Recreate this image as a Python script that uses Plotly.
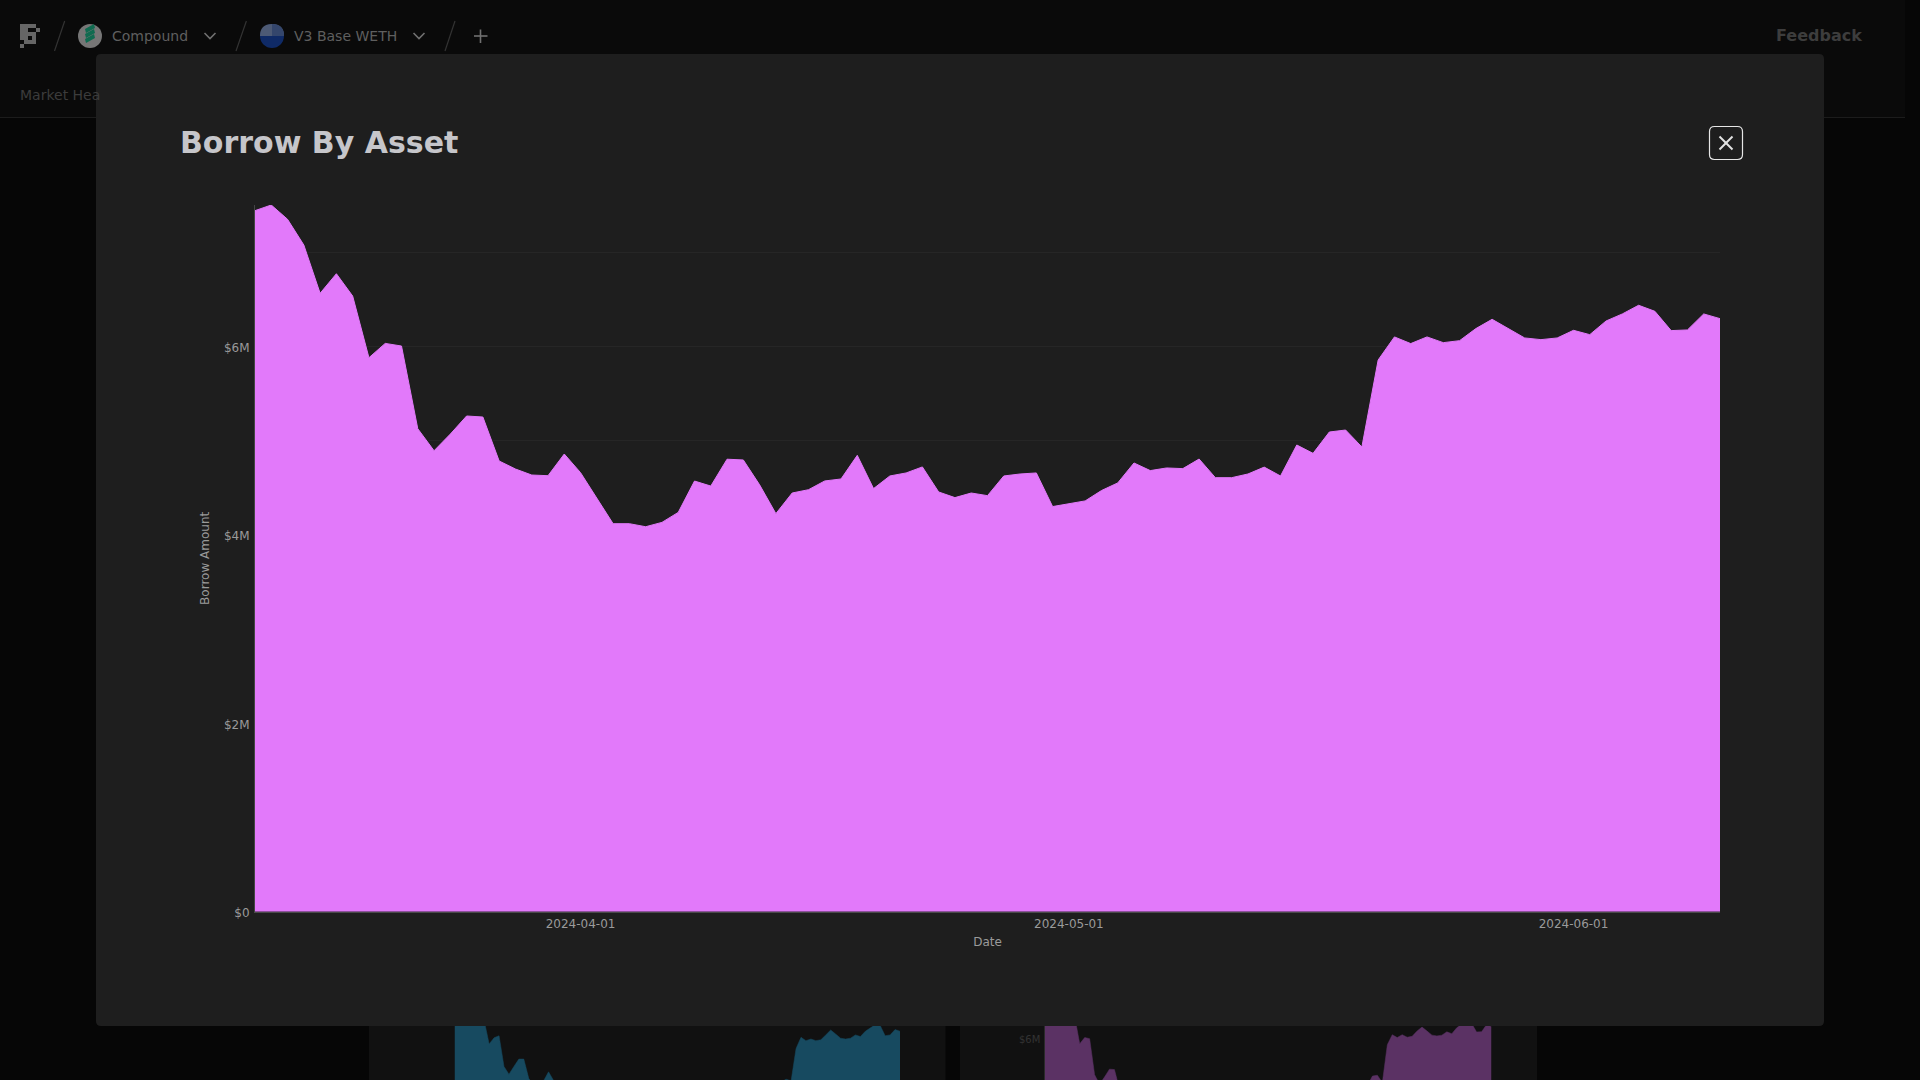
import plotly.graph_objects as go
import pandas as pd

W, H = 1920, 1080

start_date = "2024-03-12"
end_date = "2024-06-10"
dates = [d.strftime("%Y-%m-%d") for d in pd.date_range(start_date, end_date, freq="D")]

# Borrow amount in $M
borrow_m = [
    7.446, 7.506, 7.354, 7.081, 6.568, 6.776, 6.539, 5.884, 6.036, 6.008,
    5.130, 4.896, 5.073, 5.265, 5.254, 4.787, 4.702, 4.638, 4.631, 4.861,
    4.663, 4.390, 4.121, 4.121, 4.089, 4.135, 4.241, 4.574, 4.521, 4.806,
    4.798, 4.534, 4.228, 4.447, 4.482, 4.575, 4.596, 4.847, 4.494, 4.628,
    4.660, 4.724, 4.458, 4.398, 4.447, 4.419, 4.628, 4.649, 4.660, 4.303,
    4.334, 4.363, 4.473, 4.554, 4.766, 4.685, 4.713, 4.706, 4.808, 4.610,
    4.610, 4.649, 4.722, 4.628, 4.957, 4.868, 5.095, 5.116, 4.936, 5.860,
    6.105, 6.034, 6.105, 6.044, 6.065, 6.193, 6.292, 6.193, 6.094, 6.076,
    6.094, 6.175, 6.129, 6.274, 6.349, 6.441, 6.377, 6.172, 6.179, 6.349,
    6.299,
]
# Chart behind the dialog, only its upper part can be seen
teal_m = [
    7.50, 7.55, 7.40, 7.20, 6.75, 6.90, 6.45, 5.88, 6.03, 6.08,
    5.33, 5.14, 5.33, 5.51, 5.51, 5.04, 4.85, 4.75, 4.98, 5.20,
    4.99, 4.75, 4.45, 4.40, 4.38, 4.40, 4.50, 4.75, 4.70, 4.96,
    4.90, 4.70, 4.40, 4.60, 4.65, 4.72, 4.75, 4.90, 4.65, 4.75,
    4.80, 4.85, 4.60, 4.55, 4.60, 4.55, 4.75, 4.78, 4.80, 4.45,
    4.48, 4.50, 4.60, 4.68, 4.85, 4.78, 4.80, 4.80, 4.88, 4.70,
    4.70, 4.75, 4.80, 4.72, 4.90, 4.85, 4.95, 5.02, 4.98, 5.77,
    6.04, 5.96, 6.00, 5.96, 5.98, 6.10, 6.22, 6.12, 6.02, 6.00,
    6.02, 6.10, 6.06, 6.19, 6.26, 6.35, 6.33, 6.08, 6.10, 6.23,
    6.19,
]

tick_dates = ["2024-04-01", "2024-05-01", "2024-06-01"]
y_ticks_m = [0, 2, 4, 6]
y_tick_labels = ["$0", "$2M", "$4M", "$6M"]

title_text = "Borrow By Asset"
x_title = "Date"
y_title = "Borrow Amount"

FONT = "DejaVu Sans"
AREA = "#e279fa"
TEAL = "#174a60"
PURPLE = "#5b3264"


def px(x):
    return x / W


def py(y):
    return 1 - y / H


def rect(x0, y0, x1, y1, color):
    return dict(type="rect", xref="paper", yref="paper", x0=px(x0), x1=px(x1),
                y0=py(y1), y1=py(y0), fillcolor=color, line_width=0, layer="below")


def line(x0, y0, x1, y1, color, width=1.0):
    return dict(type="line", xref="paper", yref="paper", x0=px(x0), x1=px(x1),
                y0=py(y0), y1=py(y1), line=dict(color=color, width=width), layer="below")


def path(d, fill=None, stroke=None, width=1.0):
    out = []
    for tok in d:
        if isinstance(tok, str):
            out.append(tok)
        else:
            out.append(f"{px(tok[0]):.6f},{py(tok[1]):.6f}")
    s = dict(type="path", xref="paper", yref="paper", path=" ".join(out), layer="below",
             line=dict(width=width if stroke else 0, color=stroke or "rgba(0,0,0,0)"))
    if fill:
        s["fillcolor"] = fill
    return s


def round_rect(x0, y0, x1, y1, r, fill=None, stroke=None, width=1.0):
    return path(["M", (x0 + r, y0), "L", (x1 - r, y0), "Q", (x1, y0), (x1, y0 + r),
                 "L", (x1, y1 - r), "Q", (x1, y1), (x1 - r, y1),
                 "L", (x0 + r, y1), "Q", (x0, y1), (x0, y1 - r),
                 "L", (x0, y0 + r), "Q", (x0, y0), (x0 + r, y0), "Z"],
                fill=fill, stroke=stroke, width=width)


def circle(cx, cy, r, color):
    return dict(type="circle", xref="paper", yref="paper", x0=px(cx - r), x1=px(cx + r),
                y0=py(cy + r), y1=py(cy - r), fillcolor=color, line_width=0, layer="below")


def label(x, y, text, size, color, anchor="left", angle=0):
    return dict(xref="paper", yref="paper", x=px(x), y=py(y), text=text, showarrow=False,
                xanchor=anchor, yanchor="middle", textangle=angle,
                font=dict(family=FONT, size=size, color=color), borderpad=0, borderwidth=0)


shapes = [
    rect(0, 0, 1920, 1080, "#060606"),
    rect(0, 0, 1905, 117, "#0a0a0a"),
    line(0, 117.5, 1905, 117.5, "#1c1c1c"),
    rect(369, 1020, 945.5, 1080, "#111111"),
    rect(960, 1020, 1537, 1080, "#111111"),
    round_rect(96, 54, 1824, 1026, 5, fill="#1e1e1e"),
    round_rect(1709.5, 126.5, 1742.5, 159.5, 5, fill="#1e1e1e", stroke="#e6e6e6", width=1.2),
    line(1719.5, 136.5, 1732.5, 149.5, "#e2e2e2", 1.9),
    line(1732.5, 136.5, 1719.5, 149.5, "#e2e2e2", 1.9),
]

# Pixel logo
for r, c, n in [(0, 0, 4), (1, 0, 2), (1, 4, 1), (2, 0, 2), (2, 2, 2), (3, 0, 2), (3, 3, 1), (4, 1, 3), (5, 0, 1)]:
    shapes.append(rect(20 + 4 * c, 24 + 4 * r, 20 + 4 * (c + n), 24 + 4 * (r + 1), "#666666"))

# Slashes between breadcrumb items
for xt, xb in [(64.7, 54.5), (246.4, 236), (455, 445)]:
    shapes.append(line(xt, 21, xb, 51, "#333333", 1.2))

# Compound icon
shapes.append(circle(90, 36, 12, "#767676"))
for dy in (-5, 0, 5):
    shapes.append(path(["M", (85, 34 + dy), "L", (94, 29 + dy), "L", (95, 33 + dy), "L", (86, 38 + dy), "Z"],
                       fill="#0f6b50"))

# Base icon
shapes.append(circle(272, 36, 12, "#0f2a66"))
shapes.append(path(["M", (260, 36), "Q", (260, 24), (272, 24), "Q", (284, 24), (284, 36), "Z"], fill="#4d5a75"))
shapes.append(path(["M", (272, 24), "Q", (284, 24), (284, 36), "L", (272, 36), "Z"], fill="#34466c"))

# Chevrons and plus
for cx in (210, 419):
    shapes.append(path(["M", (cx - 5.5, 33), "L", (cx, 38.5), "L", (cx + 5.5, 33)], stroke="#707070", width=1.6))
shapes.append(line(480.5, 29.5, 480.5, 43, "#707070", 1.6))
shapes.append(line(474, 36, 487.5, 36, "#707070", 1.6))

annotations = [
    label(112, 36, "Compound", 14, "#5f5f5f"),
    label(294, 36, "V3 Base WETH", 14, "#5f5f5f"),
    label(20, 95, "Market Hea", 14, "#3c3c3c"),
    label(1862, 36, "<b>Feedback</b>", 16, "#3d3d3d", anchor="right"),
    label(180, 142.6, f"<b>{title_text}</b>", 30, "#c6c6ca"),
    label(1040, 1039, "$6M", 10, "#333333", anchor="right"),
]

borrow = [v * 1e6 for v in borrow_m]
teal = [v * 1e6 for v in teal_m]

fig = go.Figure()
fig.add_trace(go.Scatter(x=dates, y=teal, mode="lines", fill="tozeroy", xaxis="x2", yaxis="y2",
                         line=dict(color=TEAL, width=0.5), fillcolor=TEAL, hoverinfo="skip", showlegend=False))
fig.add_trace(go.Scatter(x=dates, y=borrow, mode="lines", fill="tozeroy", xaxis="x3", yaxis="y3",
                         line=dict(color=PURPLE, width=0.5), fillcolor=PURPLE, hoverinfo="skip", showlegend=False))
fig.add_trace(go.Scatter(x=dates, y=borrow, mode="lines", fill="tozeroy", name="Borrow Amount",
                         line=dict(color=AREA, width=1), fillcolor=AREA, showlegend=False))

tick_font = dict(family=FONT, size=12, color="#9a9a9a")
small_range = [5.0e6, 6.317e6]

fig.update_layout(
    template="none",
    width=W, height=H, autosize=False,
    margin=dict(l=0, r=0, t=0, b=0, pad=0),
    paper_bgcolor="#060606", plot_bgcolor="rgba(0,0,0,0)",
    showlegend=False,
    font=dict(family=FONT),
    shapes=shapes,
    annotations=annotations,
    xaxis=dict(
        domain=[255 / W, 1720 / W], range=[start_date, end_date], type="date", automargin=False,
        tickvals=tick_dates, tickformat="%Y-%m-%d", tickfont=tick_font,
        showgrid=False, zeroline=False, showline=True, linecolor="#4a4a4a", linewidth=1,
        ticks="", ticklabelstandoff=1,
        title=dict(text=x_title, font=dict(family=FONT, size=12, color="#9a9a9a"), standoff=7),
        anchor="y",
    ),
    yaxis=dict(
        domain=[1 - 911.7 / H, 1 - 205 / H], range=[0, 7.506e6], automargin=False,
        tickvals=[v * 1e6 for v in y_ticks_m], ticktext=y_tick_labels, tickfont=tick_font,
        showgrid=False, zeroline=False, showline=True, linecolor="#444444", linewidth=1,
        ticks="", ticklabelstandoff=2, ticklabelshift=1,
        minor=dict(dtick=1e6, showgrid=True, gridcolor="#262626", gridwidth=1, ticks=""),
        title=dict(text=y_title, font=dict(family=FONT, size=12, color="#9a9a9a"), standoff=11),
        anchor="x",
    ),
    xaxis2=dict(domain=[454.5 / W, 900 / W], range=[start_date, end_date], type="date",
                visible=False, anchor="y2", automargin=False),
    yaxis2=dict(domain=[0, 54 / H], range=small_range, visible=False, anchor="x2", automargin=False),
    xaxis3=dict(domain=[1045 / W, 1491.5 / W], range=[start_date, end_date], type="date",
                visible=False, anchor="y3", automargin=False),
    yaxis3=dict(domain=[0, 54 / H], range=small_range, showticklabels=False, showgrid=False, automargin=False,
                zeroline=False, ticks="", showline=True, linecolor="#2a2a2a", linewidth=1, anchor="x3"),
)

fig.write_html(
    "out.html",
    config=dict(displayModeBar=False, responsive=False),
    default_width="1920px",
    default_height="1080px",
    post_script="document.documentElement.style.background='#060606';"
                "document.body.style.margin='0';document.body.style.overflow='hidden';",
)
